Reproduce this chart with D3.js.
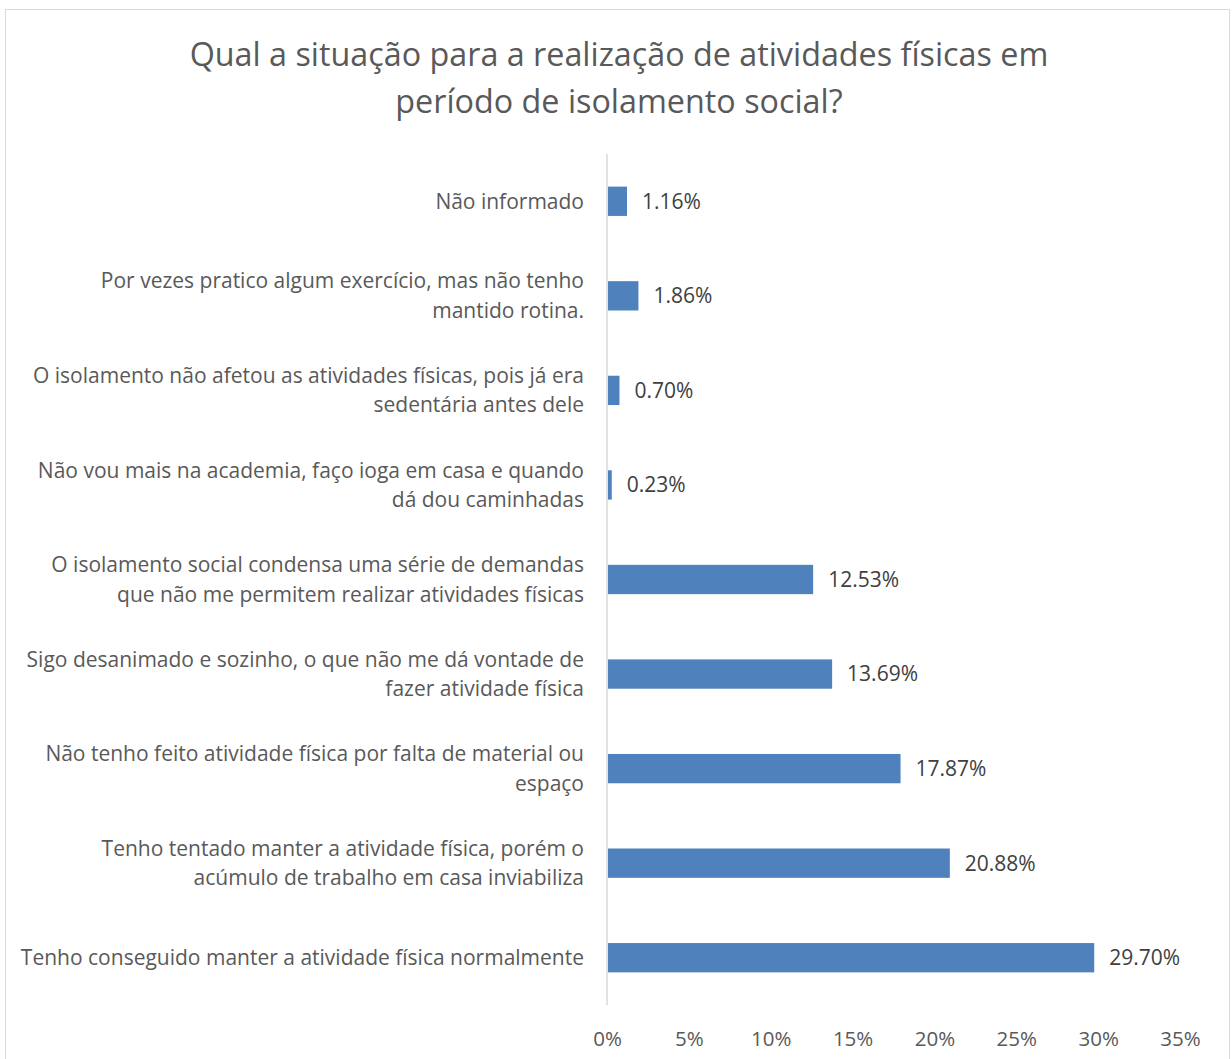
<!DOCTYPE html>
<html>
<head>
<meta charset="utf-8">
<script src="https://cdn.jsdelivr.net/npm/d3@7"></script>
<style>
  body { margin: 0; background: #fff; }
  text { font-family: "Open Sans", sans-serif; }
</style>
</head>
<body>
<div id="chart"></div>
<script>
// Chart data
var categories = [
    ["Não informado"],
    ["Por vezes pratico algum exercício, mas não tenho", "mantido rotina."],
    ["O isolamento não afetou as atividades físicas, pois já era", "sedentária antes dele"],
    ["Não vou mais na academia, faço ioga em casa e quando", "dá dou caminhadas"],
    ["O isolamento social condensa uma série de demandas", "que não me permitem realizar atividades físicas"],
    ["Sigo desanimado e sozinho, o que não me dá vontade de", "fazer atividade física"],
    ["Não tenho feito atividade física por falta de material ou", "espaço"],
    ["Tenho tentado manter a atividade física, porém o", "acúmulo de trabalho em casa inviabiliza"],
    ["Tenho conseguido manter a atividade física normalmente"]
]
var values = [1.16, 1.86, 0.70, 0.23, 12.53, 13.69, 17.87, 20.88, 29.70]
var tickValues = [0, 5, 10, 15, 20, 25, 30, 35]
var titleLines = ["Qual a situação para a realização de atividades físicas em", "período de isolamento social?"]

var width = 1232
var height = 1059

var svg = d3.select("#chart").append("svg")
    .attr("width", width)
    .attr("height", height)

// chart border
svg.append("rect")
    .attr("x", 5.5).attr("y", 9.5)
    .attr("width", 1224).attr("height", 1060)
    .attr("fill", "none")
    .attr("stroke", "#d9d9d9")
    .attr("stroke-width", 1)

// title
svg.append("g").selectAll("text")
    .data(titleLines)
    .enter().append("text")
    .attr("x", 619)
    .attr("y", (d, i) => 66 + i * 47)
    .attr("text-anchor", "middle")
    .attr("font-size", 32.3)
    .attr("fill", "#595959")
    .text(d => d)

var x = d3.scaleLinear().domain([0, 35]).range([607, 1180])
var y = d3.scaleBand().domain(d3.range(categories.length)).range([154, 1005]).paddingInner(0.69).paddingOuter(0.345)

// x axis labels (no axis line in the reference, just labels)
var xAxis = d3.axisBottom(x).tickValues(tickValues).tickSize(0).tickFormat(d => d + "%")
var gx = svg.append("g")
    .attr("transform", "translate(0,1028)")
    .call(xAxis)
gx.select(".domain").remove()
gx.selectAll("text")
    .attr("font-size", 20.5)
    .attr("fill", "#595959")
    .attr("font-family", "'Open Sans', sans-serif")

// vertical category axis line
svg.append("line")
    .attr("x1", x(0)).attr("x2", x(0))
    .attr("y1", 154).attr("y2", 1005)
    .attr("stroke", "#d9d9d9")
    .attr("stroke-width", 1.5)

// bars
svg.append("g").selectAll("rect")
    .data(values)
    .enter().append("rect")
    .attr("x", x(0) + 1)
    .attr("y", (d, i) => y(i))
    .attr("width", d => x(d) - x(0))
    .attr("height", y.bandwidth())
    .attr("fill", "#4f81bd")

// value labels
svg.append("g").selectAll("text")
    .data(values)
    .enter().append("text")
    .attr("x", d => x(d) + 16)
    .attr("y", (d, i) => y(i) + y.bandwidth() / 2)
    .attr("dy", "0.35em")
    .attr("font-size", 21)
    .attr("fill", "#404040")
    .text(d => d.toFixed(2) + "%")

// category labels (one or two lines, right aligned)
var lineGap = 29.5
var cat = svg.append("g").selectAll("text")
    .data(categories)
    .enter().append("text")
    .attr("text-anchor", "end")
    .attr("font-size", 21)
    .attr("fill", "#595959")
    .attr("transform", (d, i) => "translate(584," + (y(i) + y.bandwidth() / 2) + ")")

cat.selectAll("tspan")
    .data(d => d.map((line, j) => ({ line: line, j: j, n: d.length })))
    .enter().append("tspan")
    .attr("x", 0)
    .attr("y", d => (d.j - (d.n - 1) / 2) * lineGap)
    .attr("dy", "0.35em")
    .text(d => d.line)
</script>
</body>
</html>
